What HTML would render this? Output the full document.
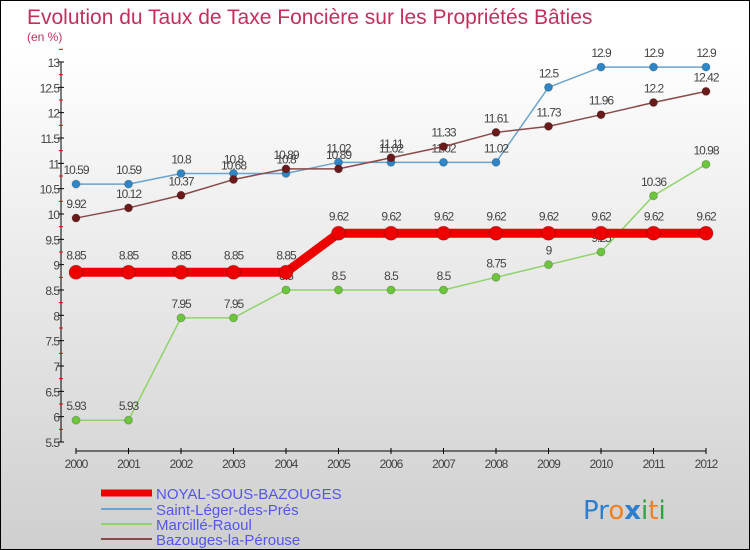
<!DOCTYPE html>
<html><head><meta charset="utf-8"><style>
body{margin:0}
#c{position:relative;width:748px;height:548px;border:1px solid #000;background:linear-gradient(#fff,#fff 8%,#cfcfcf);overflow:hidden;font-family:"Liberation Sans",sans-serif}
</style></head><body>
<div id="c">
<svg width="748" height="548" id="s">
<text x="26" y="23" font-size="21" fill="#c0305a">Evolution du Taux de Taxe Foncière sur les Propriétés Bâties</text>
<text x="26" y="40" font-size="12" fill="#c0305a">(en %)</text>
<g id="ax"></g><g id="ser"></g>
<g>
<line x1="100" y1="492" x2="151" y2="492" stroke="#e00" stroke-width="7"/>
<line x1="100" y1="508" x2="151" y2="508" stroke="#6aa3cf" stroke-width="2"/>
<line x1="100" y1="523" x2="151" y2="523" stroke="#8fd36a" stroke-width="2"/>
<line x1="100" y1="538" x2="151" y2="538" stroke="#8a4a4a" stroke-width="2"/>
<g font-size="15" fill="#5555ee">
<text x="155" y="498">NOYAL-SOUS-BAZOUGES</text>
<text x="155" y="514">Saint-Léger-des-Prés</text>
<text x="155" y="529">Marcillé-Raoul</text>
<text x="155" y="544">Bazouges-la-Pérouse</text>
</g></g>
<text x="582" y="518" font-size="26" font-family="'DejaVu Sans',sans-serif"><tspan fill="#2a7fd0">Pr</tspan><tspan fill="#f08020">o</tspan><tspan fill="#2a7fd0" font-weight="bold">x</tspan><tspan fill="#30a040">i</tspan><tspan fill="#f08020">t</tspan><tspan fill="#30a040">i</tspan></text>
</svg></div>
<script>
const years=[2000,2001,2002,2003,2004,2005,2006,2007,2008,2009,2010,2011,2012];
const noyal=[8.85,8.85,8.85,8.85,8.85,9.62,9.62,9.62,9.62,9.62,9.62,9.62,9.62];
const saintLeger=[10.59,10.59,10.8,10.8,10.8,11.02,11.02,11.02,11.02,12.5,12.9,12.9,12.9];
const marcille=[5.93,5.93,7.95,7.95,8.5,8.5,8.5,8.5,8.75,9,9.25,10.36,10.98];
const bazouges=[9.92,10.12,10.37,10.68,10.89,10.89,11.11,11.33,11.61,11.73,11.96,12.2,12.42];
const yTicks=[5.5,6,6.5,7,7.5,8,8.5,9,9.5,10,10.5,11,11.5,12,12.5,13];
const NS='http://www.w3.org/2000/svg';
const X=i=>75+i*(630/(years.length-1));
const Y=v=>441-(v-5.5)*(380/7.5);
function el(t,a,p){const e=document.createElementNS(NS,t);for(const k in a)e.setAttribute(k,a[k]);p.appendChild(e);return e;}
const ax=document.getElementById('ax'),ser=document.getElementById('ser');
const yl=el('line',{x1:60,y1:61,x2:60,y2:441,stroke:'#000'},ax);


yTicks.forEach(v=>{
 el('line',{x1:57,y1:Y(v),x2:63,y2:Y(v),stroke:'#000'},ax);
 el('line',{x1:58,y1:Y(v+0.25),x2:62,y2:Y(v+0.25),stroke:'#e00'},ax);
 const t=el('text',{x:58,y:Y(v)+5,'font-size':12,'text-anchor':'end',fill:'#444','letter-spacing':'-1'},ax);
 t.textContent=String(v);
 
 
});
const xl=el('line',{x1:75,y1:450,x2:705,y2:450,stroke:'#000'},ax);


years.forEach((y,i)=>{
 el('line',{x1:X(i),y1:447,x2:X(i),y2:453,stroke:'#000'},ax);
 const t=el('text',{x:X(i),y:467,'font-size':12,'text-anchor':'middle',fill:'#444','letter-spacing':'-1'},ax);
 t.textContent=y;
 
 
});
function series(vals,color,dot,w,r,name){
 const g=el('g',{},ser);
 
 
 el('polyline',{points:vals.map((v,i)=>X(i)+','+Y(v)).join(' '),fill:'none',stroke:color,'stroke-width':w},g);
 vals.forEach((v,i)=>{
  const c=el('circle',{cx:X(i),cy:Y(v),r:r,fill:dot,stroke:'#0003'},g);
  
  
  const t=el('text',{x:X(i),y:Y(v)-(r+6),'font-size':12,'text-anchor':'middle',fill:'#444','letter-spacing':'-1'},g);
  t.textContent=String(v);
  
  
 });
}
series(saintLeger,'#6aa3cf','#2f86c6',1.5,4,'saint-leger');
series(marcille,'#8fd36a','#6cc63c',1.5,4,'marcille');
series(bazouges,'#8a4a4a','#6a1a1a',1.5,4,'bazouges');
series(noyal,'#ee0000','#ee0000',9,7,'noyal');
</script>
</body></html>
